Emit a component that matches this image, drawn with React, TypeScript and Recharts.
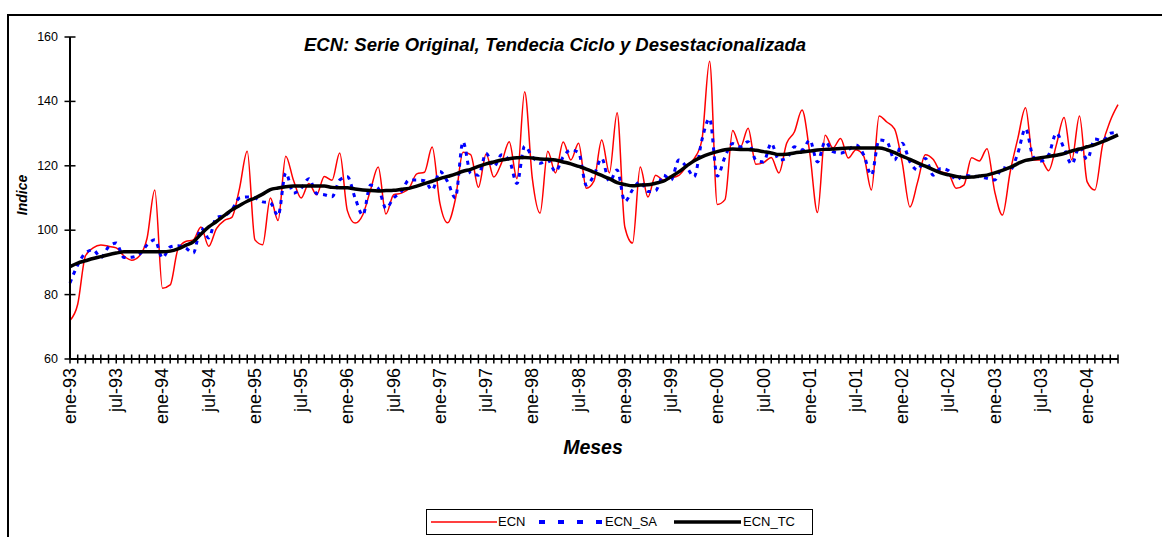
import { LineChart, Line, XAxis, YAxis } from 'recharts';

const meses = ['ene', 'feb', 'mar', 'abr', 'may', 'jun', 'jul', 'ago', 'sep', 'oct', 'nov', 'dic'];
const anios = ['93', '94', '95', '96', '97', '98', '99', '00', '01', '02', '03', '04'];
const yTicks = [60, 80, 100, 120, 140, 160];

// ene-93 .. may-04
const categorias: string[] = [];
anios.forEach((a) => meses.forEach((m) => categorias.push(`${m}-${a}`)));
categorias.length = 137;

const ecn = [
  72, 77, 92, 94.5, 95.4, 95, 94.5, 92, 90.7, 92, 97.5, 112.5,
  82, 83, 94, 96.5, 97, 101, 95, 100.5, 103, 104, 113, 124.5,
  97, 95.5, 110, 103, 123, 115.5, 110, 114.5, 111, 116.7, 115.5, 124,
  106, 102.2, 104.8, 112.5, 119.6, 105, 111, 111.5, 113, 117.5, 118, 125.8,
  108.4, 102.3, 109.5, 124.2, 123.5, 113.3, 123.7, 116.5, 120.9, 127.5, 116, 143,
  116, 105.3, 124.5, 117.8, 127.4, 121.8, 127, 113, 115.3, 128, 117.8, 136.5,
  101, 96, 119.6, 110.3, 117.1, 115.6, 116.2, 117, 119.7, 122.2, 128, 152.5,
  108, 109.5, 131, 125.8, 131.7, 120.5, 121, 122.6, 117.8, 127, 130.5, 137.3,
  124, 105.5, 129.5, 125.5, 128.5, 122.4, 125, 123, 112.5, 135.5, 133.6, 131.5,
  121, 107.2, 115, 123.4, 122, 118.2, 117.5, 113, 114, 122.5, 121.5, 125.3,
  112, 104.7, 118, 128.5, 138, 121.8, 121.8, 118.5, 126.5, 135, 121.8, 135.5,
  115, 112.5, 126.5, 134, 139,
];

const ecnSa = [
  83.6, 89.2, 92.9, 93.9, 91.5, 94.8, 96, 91.5, 91.6, 92.5, 95.4, 97,
  91.4, 94.8, 95.2, 94.5, 92.9, 100.7, 97.6, 104, 104.5, 106.3, 110, 110.3,
  110, 108.8, 108.5, 104.5, 117.8, 111.5, 113, 116, 111.4, 111, 110.4, 115.6,
  116.6, 110, 104.7, 114, 113, 106.8, 110, 112, 115.6, 115.6, 115.4, 112.5,
  118.2, 115.1, 110, 127.5, 117.6, 117.1, 123.9, 119.7, 123.4, 121.8, 114.5, 126.1,
  122.8, 120.8, 121.8, 118.2, 122.8, 124.9, 124.1, 114, 117.1, 122.3, 115.1, 118.7,
  108.9, 112.5, 115.1, 112, 112.3, 117.1, 115.6, 121.8, 119.7, 116.6, 128, 134.7,
  116.8, 122.8, 126.9, 125.9, 127.5, 121.8, 121.2, 127, 121.8, 122.3, 125.9, 124.9,
  128, 121.2, 127.5, 124.4, 123.9, 125, 126.5, 123.4, 117.1, 128, 127.5, 121.8,
  127, 121.2, 118.7, 122.3, 117.1, 119.2, 118.5, 115.6, 117.1, 116.8, 116.6, 116.1,
  115.6, 119.5, 118.7, 123.9, 131.6, 122.8, 121.5, 123.4, 130.1, 125.4, 120.5, 125.9,
  122, 128.3, 127.8, 130.1, 130.3,
];

const ecnTc = [
  88.7, 89.8, 90.5, 91.2, 91.8, 92.4, 92.9, 93.3, 93.3, 93.3, 93.3, 93.3,
  93.3, 93.5, 94.2, 95.3, 96.4, 98.8, 101, 102.7, 104.5, 106.3, 107.7, 109,
  110, 111.2, 112.6, 113.1, 113.5, 113.7, 113.7, 113.7, 113.7, 113.7, 113.3, 113.2,
  113.2, 112.8, 112.5, 112.3, 112.2, 112.3, 112.4, 112.7, 113, 113.7, 114.5, 115.2,
  116, 116.7, 117.4, 118.3, 118.9, 119.8, 120.6, 121.2, 121.8, 122.2, 122.5, 122.6,
  122.4, 122.1, 122, 121.8, 121.2, 120.6, 119.8, 119, 118, 117, 116, 114.8,
  114.2, 113.8, 114, 114.1, 114.6, 115.2, 116.6, 118.1, 119.9, 121.6, 122.8, 123.7,
  124.4, 125, 125.2, 125.1, 125.1, 124.8, 124.4, 124, 123.5, 123.6, 124, 124.3,
  124.6, 124.9, 125.1, 125.2, 125.4, 125.5, 125.5, 125.5, 125.5, 125.5, 125, 124.1,
  123, 122, 120.9, 119.9, 118.8, 117.8, 117.2, 116.7, 116.4, 116.5, 116.8, 117.1,
  117.8, 118.6, 119.5, 120.7, 121.7, 122.1, 122.5, 122.9, 123.3, 123.8, 124.6, 125.2,
  125.9, 126.6, 127.5, 128.5, 129.6,
];

const data = categorias.map((mes, i) => ({
  mes,
  ECN: ecn[i],
  ECN_SA: ecnSa[i],
  ECN_TC: ecnTc[i],
}));

const FONT = '"Liberation Sans", Arial, sans-serif';

function XTick(props: any) {
  const { x, y, payload, index } = props;
  return (
    <g>
      <line x1={x} x2={x} y1={y - 4.5} y2={y + 4.5} stroke="#000" strokeWidth={1.5} />
      {index % 6 === 0 && (
        <text
          x={x}
          y={y + 9}
          transform={`rotate(-90 ${x} ${y + 9})`}
          textAnchor="end"
          dominantBaseline="central"
          fontFamily={FONT}
          fontSize={18}
          fill="#000"
        >
          {payload.value}
        </text>
      )}
    </g>
  );
}

function YTick(props: any) {
  const { x, y, payload } = props;
  return (
    <g>
      <line x1={x - 5.5} x2={x + 5.5} y1={y} y2={y} stroke="#000" strokeWidth={1.5} />
      <text x={x - 12} y={y} textAnchor="end" dominantBaseline="central" fontFamily={FONT} fontSize={12.5} fill="#000">
        {payload.value}
      </text>
    </g>
  );
}

export default function App() {
  return (
    <div style={{ position: 'fixed', left: 0, top: 0, width: 1162, height: 537, background: '#fff', overflow: 'hidden', fontFamily: FONT }}>
      <div style={{ position: 'absolute', left: 7, top: 14, width: 1200, height: 600, borderLeft: '2px solid #000', borderTop: '2px solid #000' }} />
      <div style={{ position: 'absolute', left: 0, top: 0 }}>
        <LineChart width={1162} height={537} data={data} margin={{ top: 37, right: 44, bottom: 0, left: 0 }}>
          <XAxis
            dataKey="mes"
            height={178}
            interval={0}
            tickSize={0}
            tickMargin={0}
            tickLine={false}
            axisLine={{ stroke: '#000', strokeWidth: 2 }}
            tick={<XTick />}
          />
          <YAxis
            width={70}
            domain={[60, 160]}
            ticks={yTicks}
            interval={0}
            tickSize={0}
            tickMargin={0}
            tickLine={false}
            axisLine={{ stroke: '#000', strokeWidth: 2 }}
            tick={<YTick />}
          />
          <Line type="monotone" dataKey="ECN" stroke="#ff0000" strokeWidth={1.5} dot={false} isAnimationActive={false} />
          <Line type="monotone" dataKey="ECN_SA" stroke="#0000ff" strokeWidth={3} strokeDasharray="4 5" dot={false} isAnimationActive={false} />
          <Line type="monotone" dataKey="ECN_TC" stroke="#000000" strokeWidth={3.5} dot={false} isAnimationActive={false} />
        </LineChart>
      </div>
      <div style={{ position: 'absolute', left: 555, top: 45, transform: 'translate(-50%, -50%)', whiteSpace: 'nowrap', fontWeight: 'bold', fontStyle: 'italic', fontSize: 18.5 }}>
        ECN: Serie Original, Tendecia Ciclo y Desestacionalizada
      </div>
      <div style={{ position: 'absolute', left: 22, top: 195, transform: 'translate(-50%, -50%) rotate(-90deg)', whiteSpace: 'nowrap', fontWeight: 'bold', fontStyle: 'italic', fontSize: 14 }}>
        Indice
      </div>
      <div style={{ position: 'absolute', left: 593, top: 447, transform: 'translate(-50%, -50%)', whiteSpace: 'nowrap', fontWeight: 'bold', fontStyle: 'italic', fontSize: 19.5 }}>
        Meses
      </div>
      <div style={{ position: 'absolute', left: 426, top: 509, width: 385, height: 24, border: '1px solid #000', fontSize: 13 }}>
        <svg width={385} height={24} style={{ position: 'absolute', left: 0, top: 0 }}>
          <line x1={4} x2={70} y1={12} y2={12} stroke="#ff0000" strokeWidth={1.5} />
          <line x1={112} x2={178} y1={12} y2={12} stroke="#0000ff" strokeWidth={4} strokeDasharray="6 13" />
          <line x1={247} x2={314} y1={12} y2={12} stroke="#000" strokeWidth={3.5} />
        </svg>
        <span style={{ position: 'absolute', left: 71, top: 4 }}>ECN</span>
        <span style={{ position: 'absolute', left: 178, top: 4 }}>ECN_SA</span>
        <span style={{ position: 'absolute', left: 316, top: 4 }}>ECN_TC</span>
      </div>
    </div>
  );
}
